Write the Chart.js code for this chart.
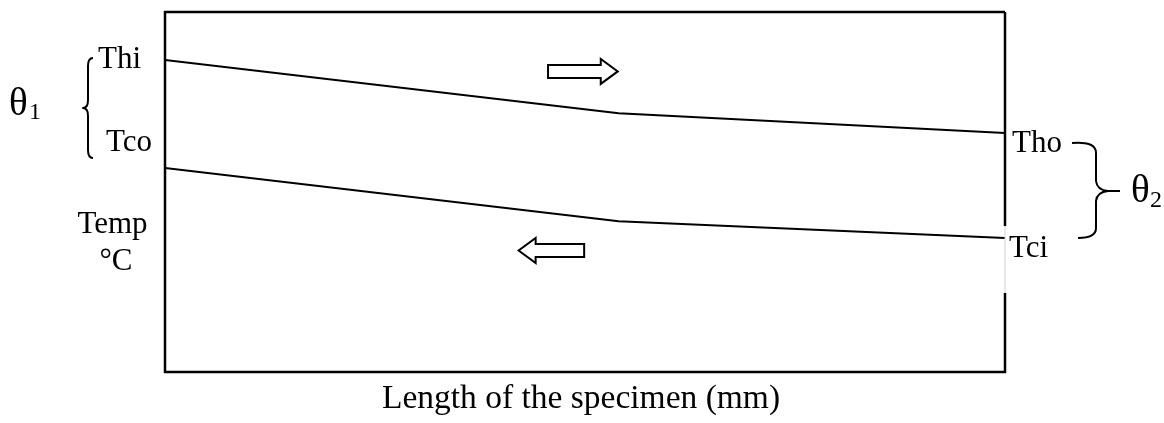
<!DOCTYPE html>
<html>
<head>
<meta charset="utf-8">
<script src="https://cdn.jsdelivr.net/npm/chart.js@4.4.1/dist/chart.umd.min.js"></script>
<style>
html,body{margin:0;padding:0;background:#fff;}
#wrap{width:1164px;height:423px;position:relative;}
</style>
</head>
<body>
<div id="wrap"><canvas id="c" width="1164" height="423"></canvas></div>
<script>
// Positions along the specimen (arbitrary length units, 0..100)
const lengthPositions = [0, 54, 100];
// Hot fluid temperature (Thi -> Tho), relative scale 0..100
const hotTemps = [86.7, 71.9, 66.4];
// Cold fluid temperature (Tco <- Tci), relative scale 0..100
const coldTemps = [56.7, 41.9, 37.2];
const xAxisTitle = 'Length of the specimen (mm)';
const yAxisTitle = ['Temp', '°C'];
const endLabels = { thi: 'Thi', tco: 'Tco', tho: 'Tho', tci: 'Tci' };

const FONT = '"Liberation Serif", "Times New Roman", serif';

const annot = {
  id: 'annot',
  afterDraw(chart) {
    const ctx = chart.ctx;
    const a = chart.chartArea;
    const xs = chart.scales.x, ys = chart.scales.y;
    ctx.save();
    // frame
    ctx.strokeStyle = '#000';
    ctx.lineWidth = 2.5;
    ctx.beginPath();
    ctx.moveTo(a.right, a.top); ctx.lineTo(a.left, a.top);
    ctx.lineTo(a.left, a.bottom); ctx.lineTo(a.right, a.bottom);
    ctx.lineTo(a.right, 293);
    ctx.moveTo(a.right, 226); ctx.lineTo(a.right, a.top);
    ctx.stroke();
    ctx.strokeStyle = '#d0d0d0';
    ctx.lineWidth = 1;
    ctx.beginPath(); ctx.moveTo(a.right, 226); ctx.lineTo(a.right, 293); ctx.stroke();

    // flow arrows (in data coordinates)
    function hollowArrow(x0, x1, yc, dir) {
      const p0 = xs.getPixelForValue(x0), p1 = xs.getPixelForValue(x1);
      const yc_ = ys.getPixelForValue(yc);
      const sh = 6.5, hh = 12.5, hl = 17;
      ctx.beginPath();
      if (dir > 0) {
        const hb = p1 - hl;
        ctx.moveTo(p0, yc_ - sh); ctx.lineTo(hb, yc_ - sh); ctx.lineTo(hb, yc_ - hh);
        ctx.lineTo(p1, yc_); ctx.lineTo(hb, yc_ + hh); ctx.lineTo(hb, yc_ + sh);
        ctx.lineTo(p0, yc_ + sh); ctx.closePath();
      } else {
        const hb = p0 + hl;
        ctx.moveTo(p1, yc_ - sh); ctx.lineTo(hb, yc_ - sh); ctx.lineTo(hb, yc_ - hh);
        ctx.lineTo(p0, yc_); ctx.lineTo(hb, yc_ + hh); ctx.lineTo(hb, yc_ + sh);
        ctx.lineTo(p1, yc_ + sh); ctx.closePath();
      }
      ctx.fillStyle = '#fff'; ctx.fill();
      ctx.strokeStyle = '#000'; ctx.lineWidth = 2; ctx.lineJoin = 'miter'; ctx.stroke();
    }
    hollowArrow(45.6, 53.9, 83.5, 1);
    hollowArrow(42.1, 49.9, 33.75, -1);

    // texts
    ctx.fillStyle = '#000';
    ctx.textBaseline = 'alphabetic';
    ctx.font = '31px ' + FONT;
    ctx.textAlign = 'left';
    ctx.fillText(endLabels.thi, 98, 68);
    ctx.fillText(endLabels.tco, 106, 151);
    ctx.fillText(endLabels.tho, 1012, 152);
    ctx.fillText(endLabels.tci, 1009, 257);
    ctx.textAlign = 'center';
    ctx.fillText(yAxisTitle[0], 112.5, 233);
    ctx.fillText(yAxisTitle[1], 116, 270);
    ctx.font = '33.5px ' + FONT;
    ctx.fillText(xAxisTitle, 581, 408);

    // theta labels
    ctx.textAlign = 'left';
    ctx.font = '39px ' + FONT;
    ctx.fillText('θ', 9, 115);
    ctx.fillText('θ', 1131, 202);
    ctx.font = '24px ' + FONT;
    ctx.fillText('1', 29, 119);
    ctx.fillText('2', 1150, 207);

    // braces
    ctx.strokeStyle = '#000';
    ctx.lineWidth = 2;
    ctx.lineJoin = 'round';
    ctx.beginPath();
    ctx.moveTo(93, 58);
    ctx.quadraticCurveTo(88, 58, 88, 66);
    ctx.lineTo(88, 100);
    ctx.quadraticCurveTo(88, 108, 83, 108);
    ctx.quadraticCurveTo(88, 108, 88, 116);
    ctx.lineTo(88, 150);
    ctx.quadraticCurveTo(88, 158, 93, 158);
    ctx.stroke();

    ctx.beginPath();
    ctx.moveTo(1072, 143);
    ctx.quadraticCurveTo(1096, 141, 1096, 153);
    ctx.lineTo(1096, 181);
    ctx.quadraticCurveTo(1097, 190, 1108, 191);
    ctx.lineTo(1120, 191);
    ctx.moveTo(1108, 191);
    ctx.quadraticCurveTo(1097, 192, 1096, 201);
    ctx.lineTo(1096, 228);
    ctx.quadraticCurveTo(1096, 238, 1078, 238);
    ctx.stroke();
    ctx.restore();
  }
};

new Chart(document.getElementById('c'), {
  type: 'line',
  data: {
    datasets: [
      { label: 'Hot', data: lengthPositions.map((x, i) => ({ x, y: hotTemps[i] })),
        borderColor: '#000', borderWidth: 2, pointRadius: 0, fill: false, tension: 0 },
      { label: 'Cold', data: lengthPositions.map((x, i) => ({ x, y: coldTemps[i] })),
        borderColor: '#000', borderWidth: 2, pointRadius: 0, fill: false, tension: 0 }
    ]
  },
  options: {
    responsive: false,
    animation: false,
    devicePixelRatio: 1,
    layout: { padding: { left: 165, right: 159, top: 12, bottom: 51 } },
    scales: {
      x: { type: 'linear', min: 0, max: 100, display: false },
      y: { type: 'linear', min: 0, max: 100, display: false }
    },
    plugins: { legend: { display: false }, tooltip: { enabled: false }, title: { display: false } }
  },
  plugins: [annot]
});
</script>
</body>
</html>
